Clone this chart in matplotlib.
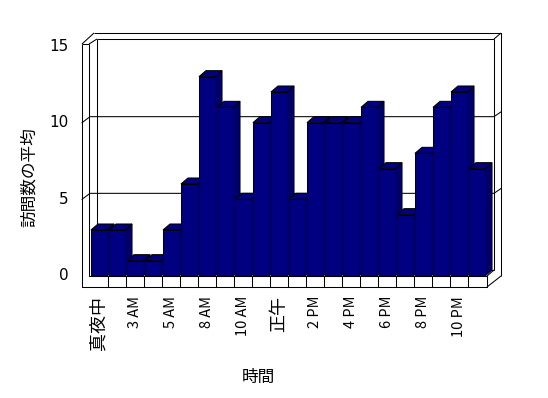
import matplotlib
matplotlib.use("Agg")
import matplotlib.pyplot as plt
from matplotlib.patches import Polygon, Rectangle

plt.rcParams['font.family'] = ['Noto Sans CJK JP', 'DejaVu Sans']

hours = ['真夜中', '1 AM', '3 AM', '4 AM', '5 AM', '7 AM', '8 AM', '9 AM', '10 AM', '11 AM',
         '正午', '1 PM', '2 PM', '3 PM', '4 PM', '5 PM', '6 PM', '7 PM', '8 PM', '9 PM',
         '10 PM', '11 PM']
visits = [3, 3, 1, 1, 3, 6, 13, 11, 5, 10, 12, 5, 10, 10, 10, 11, 7, 4, 8, 11, 12, 7]
yticks = [0, 5, 10, 15]

W, H = 548, 398
fig = plt.figure(figsize=(W / 100, H / 100), dpi=100)

# front plane: 18 px per category, ~15.33 px per unit
L, R, T, B = 82, 502, 32, 288
ax = fig.add_axes([L / W, 1 - B / H, (R - L) / W, (B - T) / H])
ax.set_xlim(-0.5 - 8 / 18, len(visits) - 0.5 + 16 / 18)
ax.set_ylim(-12 / 15.333, 15 + 14 / 15.333)
ax.axis('off')

inv = ax.transData.inverted()
LW = 0.75


def P(px, py):
    # pixel (top origin) -> data
    return inv.transform((px, H - py))


def line(pts, z=1):
    d = [P(*p) for p in pts]
    ax.plot([q[0] for q in d], [q[1] for q in d], color='black', lw=LW,
            zorder=z, clip_on=False, solid_capstyle='butt')


x0, y0 = P(0, 0)
x1, y1 = P(1, 1)
ux, uy = x1 - x0, y0 - y1  # data per pixel
dx, dy = 7 * ux, 6 * uy
gx, gy = 8 * ux, 6 * uy

# walls
line([(97, 39), (97, 270)])
line([(494, 39), (494, 270)])
line([(97, 270), (494, 270)])
line([(94, 33), (501, 33), (501, 276)])
line([(501, 33), (494, 39)])
line([(97, 39), (494, 39)])
line([(82, 44), (94, 33)])
line([(89, 44), (97, 39)])
line([(82, 44), (89, 44)])

# gridlines
for v in yticks[1:-1]:
    xa = P(82, 0)[0]
    xb = P(494, 0)[0]
    ax.plot([xa, xa + gx, xb, xb + dx], [v, v + gy, v + gy, v + gy + dy * 0.8],
            color='black', lw=LW, zorder=1, clip_on=False)

# bars
hw = 0.445
for i, v in enumerate(visits):
    z = 3 + i * 0.01
    side = [(i + hw, 0), (i + hw, v), (i + hw + dx, v + dy), (i + hw + dx, dy)]
    top = [(i - hw, v), (i + hw, v), (i + hw + dx, v + dy), (i - hw + dx, v + dy)]
    ax.add_patch(Polygon(side, closed=True, fc='#000066', ec='black', lw=LW, zorder=z))
    ax.add_patch(Polygon(top, closed=True, fc='#000080', ec='black', lw=LW, zorder=z))
    ax.add_patch(Rectangle((i - hw, 0), 2 * hw, v, fc='#000080', ec='black', lw=LW, zorder=z))

# floor and front axis
line([(82, 44), (82, 287), (487, 287), (487, 276), (89, 276), (89, 44)], z=5)
line([(487, 287), (501, 276)], z=5)
line([(487, 276), (494, 270)], z=5)
fy0, fy1 = P(0, 276)[1], P(0, 287)[1]
for k in range(1, len(visits)):
    ax.plot([k - 0.5, k - 0.5], [fy0, fy1], color='black', lw=LW, zorder=5, clip_on=False)

# tick labels
lx = P(69, 0)[0]
for v in yticks:
    ax.text(lx, v, str(v), ha='right', va='center', fontsize=11,
            family=['DejaVu Sans'], clip_on=False)

ly = P(0, 296)[1]
for i in range(0, len(hours), 2):
    lab = hours[i]
    cjk = lab in ('真夜中', '正午')
    ax.text(i, ly, lab, rotation=90, ha='center', va='top',
            fontsize=13 if cjk else 10.5, clip_on=False)

fig.text(258 / W, 1 - 377 / H, '時間', ha='center', va='center', fontsize=12)
fig.text(29 / W, 1 - 177 / H, '訪問数の平均', ha='center', va='center',
         rotation=90, fontsize=12)

fig.savefig('out.png', dpi=100)
